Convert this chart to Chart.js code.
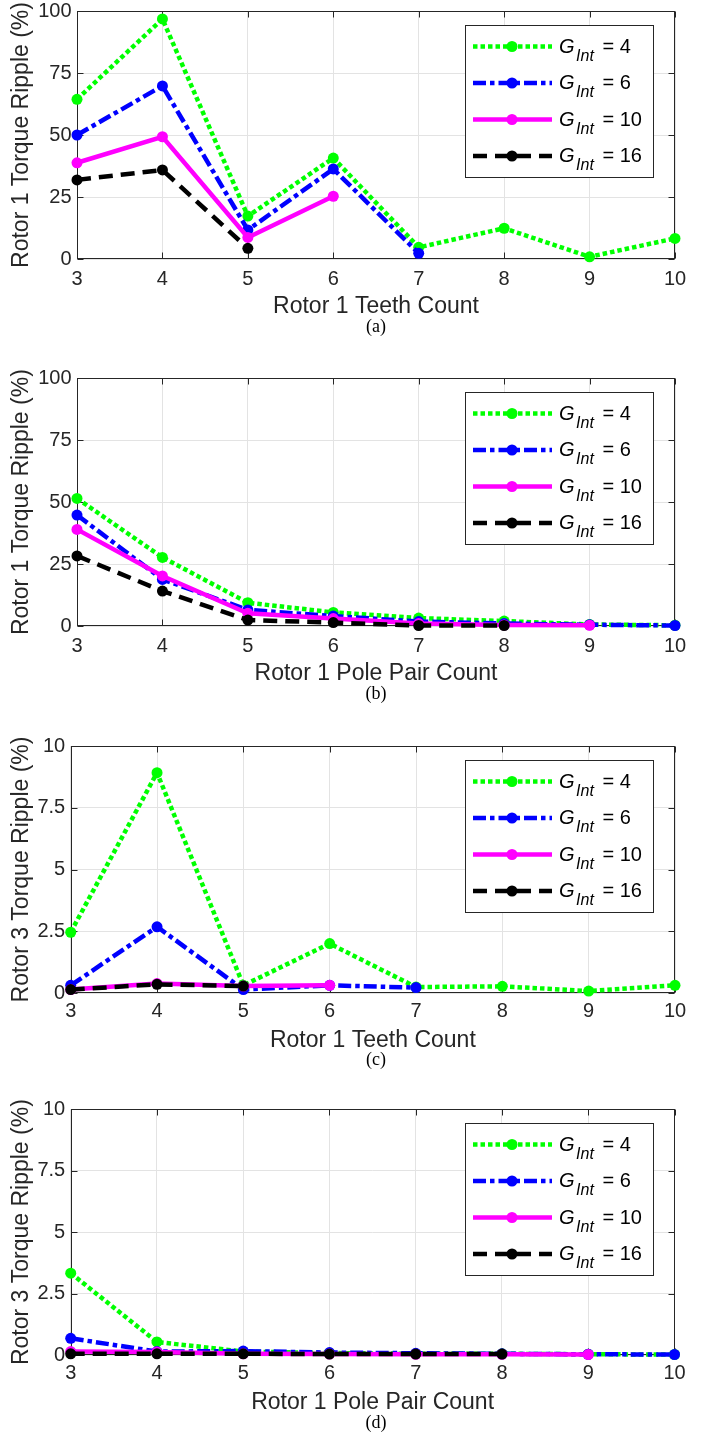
<!DOCTYPE html>
<html>
<head>
<meta charset="utf-8">
<script src="https://cdn.jsdelivr.net/npm/chart.js@4.4.1/dist/chart.umd.min.js"></script>
<style>
  body { margin: 0; background: #fff; width: 701px; height: 1439px; position: relative; overflow: hidden; }
  canvas { position: absolute; left: 0; }
  .cap { position: absolute; left: 0; width: 752px; text-align: center; font: 18px "Liberation Serif", serif; color: #000; line-height: 20px; }
</style>
</head>
<body>
<canvas id="chartA"></canvas>
<canvas id="chartB"></canvas>
<canvas id="chartC"></canvas>
<canvas id="chartD"></canvas>
<div class="cap" id="capA">(a)</div>
<div class="cap" id="capB">(b)</div>
<div class="cap" id="capC">(c)</div>
<div class="cap" id="capD">(d)</div>
<script>
const countLabels = ['3', '4', '5', '6', '7', '8', '9', '10'];
const gInt = ['4', '6', '10', '16'];

// (a) rotor 1 ripple vs rotor 1 teeth count
const a4  = [64.4, 96.8, 17.3, 40.7, 4.7, 12.4, 0.9, 8.3];
const a6  = [50.0, 69.8, 11.7, 36.3, 2.3];
const a10 = [38.8, 49.3, 8.7, 25.3];
const a16 = [31.9, 35.9, 4.3];

// (b) rotor 1 ripple vs rotor 1 pole pair count
const b4  = [51.5, 27.7, 9.4, 5.5, 3.2, 2.0, 0.6, 0.3];
const b6  = [44.8, 18.8, 6.5, 4.0, 1.8, 1.0, 0.5, 0.2];
const b10 = [39.0, 20.2, 5.1, 3.0, 1.0, 0.4, 0.3];
const b16 = [28.3, 14.1, 2.4, 1.4, 0.2, 0.2];

// (c) rotor 3 ripple vs rotor 1 teeth count
const c4  = [2.46, 8.92, 0.31, 2.0, 0.24, 0.27, 0.08, 0.31];
const c6  = [0.31, 2.68, 0.14, 0.31, 0.22];
const c10 = [0.14, 0.38, 0.28, 0.31];
const c16 = [0.14, 0.35, 0.28];

// (d) rotor 3 ripple vs rotor 1 pole pair count
const d4  = [3.33, 0.53, 0.14, 0.08, 0.05, 0.05, 0.03, 0.02];
const d6  = [0.68, 0.14, 0.16, 0.10, 0.07, 0.05, 0.03, 0.02];
const d10 = [0.14, 0.12, 0.05, 0.04, 0.03, 0.03, 0.02];
const d16 = [0.05, 0.05, 0.05, 0.04, 0.04, 0.04];

// ——— styles ———
const FONT = '"Liberation Sans", Arial, sans-serif';
const INK = '#262626';
const lineStyles = [
  { color: '#00ff00', dash: [4.5, 3] },         // dotted
  { color: '#0000ff', dash: [13, 4, 4.5, 4] },  // dash-dot
  { color: '#ff00ff', dash: [] },               // solid
  { color: '#000000', dash: [14, 8] },          // dashed
];

const panels = [
  { canvas: 'chartA', cap: 'capA', top: 0,    plotTop: 11,    plotBottom: 259,   plotLeft: 77,   plotRight: 675, tickPad: 10,
    xTitle: 'Rotor 1 Teeth Count',     yTitle: 'Rotor 1 Torque Ripple (%)', yMax: 100, yStep: 25, series: [a4, a6, a10, a16] },
  { canvas: 'chartB', cap: 'capB', top: 360,  plotTop: 378.3, plotBottom: 626,   plotLeft: 77,   plotRight: 675, tickPad: 10,
    xTitle: 'Rotor 1 Pole Pair Count', yTitle: 'Rotor 1 Torque Ripple (%)', yMax: 100, yStep: 25, series: [b4, b6, b10, b16] },
  { canvas: 'chartC', cap: 'capC', top: 725,  plotTop: 746,   plotBottom: 992.7, plotLeft: 70.7, plotRight: 675, tickPad: 8.5,
    xTitle: 'Rotor 1 Teeth Count',     yTitle: 'Rotor 3 Torque Ripple (%)', yMax: 10,  yStep: 2.5, series: [c4, c6, c10, c16] },
  { canvas: 'chartD', cap: 'capD', top: 1085, plotTop: 1109.3, plotBottom: 1355, plotLeft: 70.7, plotRight: 674.5, tickPad: 8.5,
    xTitle: 'Rotor 1 Pole Pair Count', yTitle: 'Rotor 3 Torque Ripple (%)', yMax: 10,  yStep: 2.5, series: [d4, d6, d10, d16] },
];

// box + inward tick marks, MATLAB style
const boxPlugin = {
  id: 'matBox',
  beforeDatasetsDraw(chart) {
    const { ctx, chartArea: ca, scales } = chart;
    const L = Math.round(ca.left) + 0.5, R = Math.round(ca.right) - 0.5;
    const T = Math.round(ca.top) + 0.5, B = Math.round(ca.bottom) - 0.5;
    const tl = 6;
    ctx.save();
    ctx.strokeStyle = INK;
    ctx.lineWidth = 1;
    ctx.setLineDash([]);
    ctx.strokeRect(L, T, R - L, B - T);
    ctx.beginPath();
    scales.x.ticks.forEach((t, i) => {
      const px = Math.round(scales.x.getPixelForTick(i)) + 0.5;
      ctx.moveTo(px, B); ctx.lineTo(px, B - tl);
      ctx.moveTo(px, T); ctx.lineTo(px, T + tl);
    });
    scales.y.ticks.forEach(t => {
      const py = Math.round(scales.y.getPixelForValue(t.value)) + 0.5;
      ctx.moveTo(L, py); ctx.lineTo(L + tl, py);
      ctx.moveTo(R, py); ctx.lineTo(R - tl, py);
    });
    ctx.stroke();
    ctx.restore();
  }
};

// legend with G_Int subscript, drawn inside the axes
const legendPlugin = {
  id: 'gLegend',
  afterDatasetsDraw(chart) {
    const { ctx, chartArea: ca } = chart;
    const bw = 188, bh = 152;
    const bx = Math.round(ca.right - 22 - bw), by = Math.round(ca.top + 14);
    ctx.save();
    ctx.fillStyle = '#fff';
    ctx.fillRect(bx, by, bw, bh);
    ctx.strokeStyle = INK;
    ctx.lineWidth = 1;
    ctx.setLineDash([]);
    ctx.strokeRect(bx + 0.5, by + 0.5, bw, bh);
    chart.data.datasets.forEach((ds, i) => {
      const y = by + 21.5 + i * 36.5;
      ctx.strokeStyle = ds.borderColor;
      ctx.lineWidth = ds.borderWidth;
      ctx.setLineDash(ds.borderDash);
      ctx.beginPath();
      ctx.moveTo(bx + 8, y);
      ctx.lineTo(bx + 87, y);
      ctx.stroke();
      ctx.setLineDash([]);
      ctx.fillStyle = ds.borderColor;
      ctx.beginPath();
      ctx.arc(bx + 47, y, 5.5, 0, Math.PI * 2);
      ctx.fill();

      let tx = bx + 94;
      const base = y + 6;
      ctx.fillStyle = '#000';
      ctx.textAlign = 'left';
      ctx.textBaseline = 'alphabetic';
      ctx.font = 'italic 20px ' + FONT;
      ctx.fillText('G', tx, base);
      tx += ctx.measureText('G').width + 1.5;
      ctx.font = 'italic 16px ' + FONT;
      ctx.fillText('Int', tx, base + 8);
      tx += ctx.measureText('Int').width + 3;
      ctx.font = '20px ' + FONT;
      ctx.fillText(' = ' + gInt[i], tx, base);
    });
    ctx.restore();
  }
};

panels.forEach(p => {
  const canvas = document.getElementById(p.canvas);
  const h = Math.ceil(p.plotBottom - p.top + 61);
  canvas.width = 701;
  canvas.height = h;
  canvas.style.top = p.top + 'px';
  canvas.style.width = '701px';
  canvas.style.height = h + 'px';

  const cap = document.getElementById(p.cap);
  cap.style.top = (p.plotBottom + 66.5 - 10) + 'px';

  new Chart(canvas.getContext('2d'), {
    type: 'line',
    data: {
      labels: countLabels,
      datasets: p.series.map((vals, i) => ({
        label: 'G_Int = ' + gInt[i],
        data: vals,
        borderColor: lineStyles[i].color,
        backgroundColor: lineStyles[i].color,
        borderWidth: 4.5,
        borderDash: lineStyles[i].dash,
        borderCapStyle: 'butt',
        pointRadius: 5.5,
        pointBorderWidth: 0,
        pointBackgroundColor: lineStyles[i].color,
        tension: 0,
        fill: false,
        clip: false,
        order: 4 - i,
      }))
    },
    options: {
      responsive: false,
      animation: false,
      events: [],
      layout: { padding: { top: p.plotTop - p.top, left: 0, right: 701 - p.plotRight, bottom: 0 } },
      plugins: { legend: { display: false }, tooltip: { enabled: false } },
      scales: {
        x: {
          type: 'category',
          offset: false,
          grid: { color: '#e3e3e3', drawTicks: false },
          border: { display: false },
          ticks: { color: INK, font: { family: FONT, size: 20, lineHeight: 1 }, padding: p.tickPad, autoSkip: false, maxRotation: 0 },
          title: { display: true, text: p.xTitle, color: INK, font: { family: FONT, size: 23 }, padding: 0 },
          afterFit: s => { s.height = 61; s.paddingLeft = 0; s.paddingRight = 0; }
        },
        y: {
          min: 0, max: p.yMax,
          grid: { color: '#e3e3e3', drawTicks: false },
          border: { display: false },
          ticks: { stepSize: p.yStep, color: INK, font: { family: FONT, size: 20, lineHeight: 1 }, padding: 5.5 },
          title: { display: true, text: p.yTitle, color: INK, font: { family: FONT, size: 23 }, padding: { top: 8, bottom: 0 } },
          afterFit: s => { s.width = p.plotLeft; s.paddingTop = 0; s.paddingBottom = 0; }
        }
      }
    },
    plugins: [boxPlugin, legendPlugin]
  });
});
</script>
</body>
</html>
